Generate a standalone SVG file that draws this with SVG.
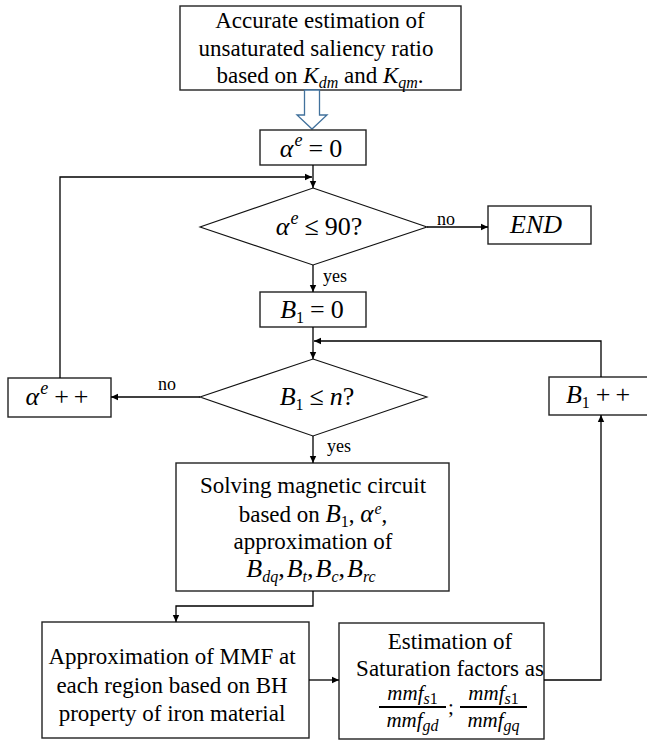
<svg xmlns="http://www.w3.org/2000/svg" width="647" height="740" viewBox="0 0 647 740">
<defs>
<style>
.box{fill:#fff;stroke:#222;stroke-width:1.4}
.dia{fill:#fff;stroke:#111;stroke-width:1.1}
.ln{fill:none;stroke:#000;stroke-width:1.3}
.t{font-family:'Liberation Serif','Times New Roman',Tinos,'DejaVu Serif',serif;font-size:23px;fill:#000}
.lbl{font-family:'Liberation Serif','Times New Roman',Tinos,'DejaVu Serif',serif;font-size:18px;fill:#000}
.m{font-family:'Liberation Serif','Times New Roman',Tinos,'DejaVu Serif',serif;font-size:26px;fill:#000}
.i{font-style:italic}
.sub{font-size:16px}
.sup{font-size:18px;font-style:italic}
.fr{font-family:'Liberation Serif','Times New Roman',Tinos,'DejaVu Serif',serif;font-size:21px;fill:#000}
</style>
<marker id="ah" markerWidth="8" markerHeight="8" refX="7" refY="4" orient="auto" markerUnits="userSpaceOnUse">
<path d="M0,0.8 L7,4 L0,7.2 Z" fill="#000"/>
</marker>
</defs>

<g id="start">
<rect class="box" x="180" y="6" width="281" height="84"/>
<text class="t" x="320" y="28" text-anchor="middle">Accurate estimation of</text>
<text class="t" x="316" y="56" text-anchor="middle">unsaturated saliency ratio</text>
<text class="t" x="320" y="83" text-anchor="middle">based on <tspan class="i">K</tspan><tspan class="i sub" dy="5">dm</tspan><tspan dy="-5"> and </tspan><tspan class="i">K</tspan><tspan class="i sub" dy="5">qm</tspan><tspan dy="-5">.</tspan></text>
</g>

<g id="blockarrow">
<path d="M304.5,90 L319.5,90 L319.5,115 L327,115 L312,129 L297,115 L304.5,115 Z" fill="#fff" stroke="#41719c" stroke-width="1.3"/>
</g>

<g id="alpha0">
<rect class="box" x="260" y="130" width="106" height="35"/>
<text class="m" x="311" y="157" text-anchor="middle"><tspan class="i">α</tspan><tspan class="sup" dy="-11" dx="1">e</tspan><tspan dy="11" dx="6">=</tspan><tspan dx="6">0</tspan></text>
</g>

<g id="dec1">
<polygon class="dia" points="313,188 427,227 313,265 200,227"/>
<text class="m" x="319" y="235" text-anchor="middle"><tspan class="i">α</tspan><tspan class="sup" dy="-11" dx="1">e</tspan><tspan dy="11" dx="6">≤</tspan><tspan dx="6">90?</tspan></text>
</g>

<g id="end">
<rect class="box" x="488" y="206" width="103" height="38"/>
<text class="m" x="536" y="233" text-anchor="middle" font-style="italic" font-size="23">END</text>
</g>

<g id="b10">
<rect class="box" x="260" y="292" width="106" height="35"/>
<text class="m" x="312" y="318" text-anchor="middle"><tspan class="i">B</tspan><tspan class="sub" dy="5">1</tspan><tspan dy="-5" dx="6">=</tspan><tspan dx="6">0</tspan></text>
</g>

<g id="dec2">
<polygon class="dia" points="313,359 427,397 313,436 200,397"/>
<text class="m" x="317" y="405" text-anchor="middle"><tspan class="i">B</tspan><tspan class="sub" dy="5">1</tspan><tspan dy="-5" dx="6">≤</tspan><tspan class="i" dx="6">n</tspan><tspan>?</tspan></text>
</g>

<g id="alphainc">
<rect class="box" x="8" y="378" width="103" height="39"/>
<text class="m" x="57" y="405" text-anchor="middle"><tspan class="i">α</tspan><tspan class="sup" dy="-11" dx="1">e</tspan><tspan dy="11" dx="6">+</tspan><tspan dx="5">+</tspan></text>
</g>

<g id="b1inc">
<rect class="box" x="549" y="377" width="100" height="38"/>
<text class="m" x="598" y="403" text-anchor="middle"><tspan class="i">B</tspan><tspan class="sub" dy="5">1</tspan><tspan dy="-5" dx="6">+</tspan><tspan dx="5">+</tspan></text>
</g>

<g id="solve">
<rect class="box" x="176" y="463" width="273" height="128"/>
<text class="t" x="313" y="493" text-anchor="middle">Solving magnetic circuit</text>
<text class="t" x="313" y="522" text-anchor="middle">based on <tspan class="i" font-size="25">B</tspan><tspan class="sub" dy="5">1</tspan><tspan dy="-5">, </tspan><tspan class="i" font-size="25">α</tspan><tspan class="i" font-size="16" dy="-8" dx="1">e</tspan><tspan dy="8">,</tspan></text>
<text class="t" x="313" y="549" text-anchor="middle">approximation of</text>
<text class="m" x="311" y="577" text-anchor="middle" font-size="25"><tspan class="i">B</tspan><tspan class="i sub" dy="5">dq</tspan><tspan dy="-5">,</tspan><tspan class="i" dx="2">B</tspan><tspan class="i sub" dy="5">t</tspan><tspan dy="-5">,</tspan><tspan class="i" dx="2">B</tspan><tspan class="i sub" dy="5">c</tspan><tspan dy="-5">,</tspan><tspan class="i" dx="2">B</tspan><tspan class="i sub" dy="5">rc</tspan></text>
</g>

<g id="approx">
<rect class="box" x="42" y="622" width="267" height="116"/>
<text class="t" x="172" y="664" text-anchor="middle">Approximation of MMF at</text>
<text class="t" x="172" y="693" text-anchor="middle">each region based on BH</text>
<text class="t" x="172" y="721" text-anchor="middle">property of iron material</text>
</g>

<g id="estim">
<rect class="box" x="339" y="623" width="205" height="116"/>
<text class="t" x="450" y="649" text-anchor="middle">Estimation of</text>
<text class="t" x="450" y="676" text-anchor="middle">Saturation factors as</text>
<text class="fr" x="412.5" y="700" text-anchor="middle"><tspan class="i">mmf</tspan><tspan class="sub" dy="4"><tspan class="i">s</tspan>1</tspan></text>
<line x1="379" y1="707" x2="446" y2="707" stroke="#000" stroke-width="1.8"/>
<text class="fr" x="412.5" y="727" text-anchor="middle"><tspan class="i">mmf</tspan><tspan class="i sub" dy="4">gd</tspan></text>
<text class="fr" x="451" y="714" text-anchor="middle">;</text>
<text class="fr" x="493.5" y="700" text-anchor="middle"><tspan class="i">mmf</tspan><tspan class="sub" dy="4"><tspan class="i">s</tspan>1</tspan></text>
<line x1="460" y1="707" x2="527" y2="707" stroke="#000" stroke-width="1.8"/>
<text class="fr" x="493.5" y="727" text-anchor="middle"><tspan class="i">mmf</tspan><tspan class="i sub" dy="4">gq</tspan></text>
</g>

<g id="connectors">
<path class="ln" d="M313,165 L313,188" marker-end="url(#ah)"/>
<path class="ln" d="M60,378 L60,177 L312,177" marker-end="url(#ah)"/>
<path class="ln" d="M427,227 L488,227" marker-end="url(#ah)"/>
<path class="ln" d="M313,265 L313,292" marker-end="url(#ah)"/>
<path class="ln" d="M313,327 L313,359" marker-end="url(#ah)"/>
<path class="ln" d="M601,377 L601,341 L314,341" marker-end="url(#ah)"/>
<path class="ln" d="M200,397 L111,397" marker-end="url(#ah)"/>
<path class="ln" d="M313,436 L313,463" marker-end="url(#ah)"/>
<path class="ln" d="M313,591 L313,606 L176,606 L176,622" marker-end="url(#ah)"/>
<path class="ln" d="M309,680 L339,680" marker-end="url(#ah)"/>
<path class="ln" d="M544,680 L601,680 L601,415" marker-end="url(#ah)"/>
<text class="lbl" x="437" y="225">no</text>
<text class="lbl" x="323" y="282">yes</text>
<text class="lbl" x="158" y="390">no</text>
<text class="lbl" x="327" y="452">yes</text>
</g>
</svg>
